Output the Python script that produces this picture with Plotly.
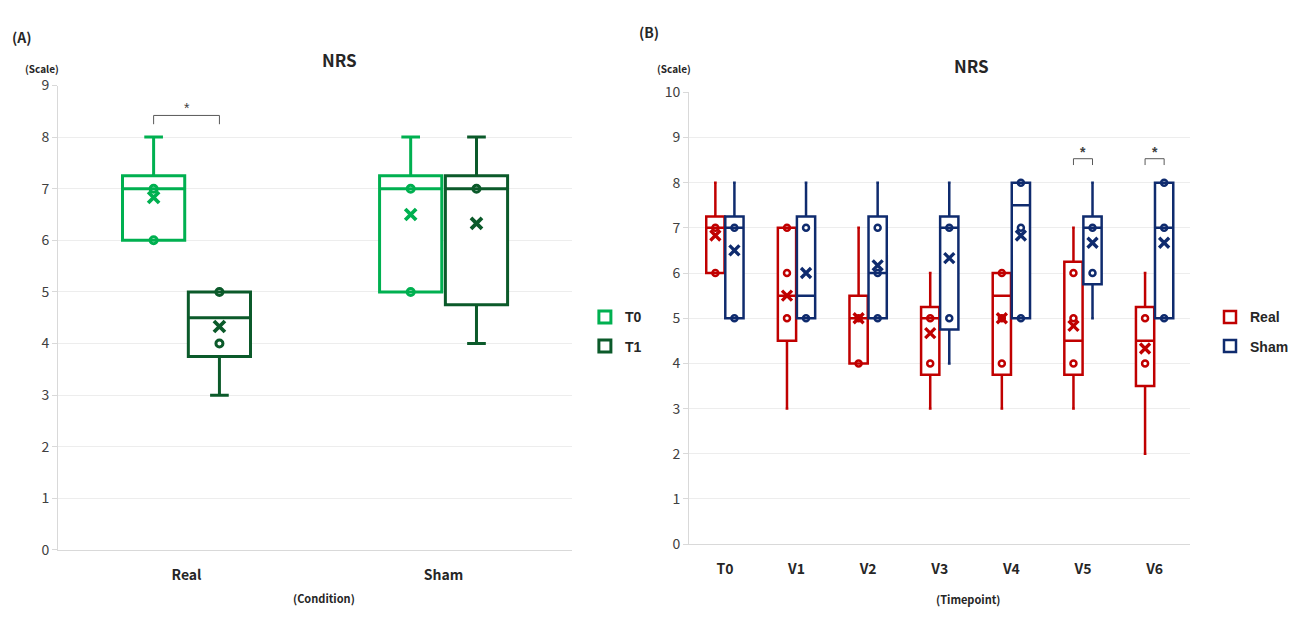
import plotly.graph_objects as go

# ---------------- Panel A: NRS by condition ----------------
conditions = ["Real", "Sham"]

t0_q1 = [6, 5]
t0_median = [7, 7]
t0_q3 = [7.25, 7.25]
t0_low = [6, 5]
t0_high = [8, 8]
t0_mean = [6.83, 6.5]
t0_points = [[7, 6], [7, 5]]

t1_q1 = [3.75, 4.75]
t1_median = [4.5, 7]
t1_q3 = [5, 7.25]
t1_low = [3, 4]
t1_high = [5, 8]
t1_mean = [4.33, 6.33]
t1_points = [[5, 4], [7]]

# ---------------- Panel B: NRS by timepoint ----------------
timepoints = ["T0", "V1", "V2", "V3", "V4", "V5", "V6"]

real_q1 = [6, 4.5, 4, 3.75, 3.75, 3.75, 3.5]
real_median = [7, 5.5, 5, 5, 5.5, 4.5, 4.5]
real_q3 = [7.25, 7, 5.5, 5.25, 6, 6.25, 5.25]
real_low = [6, 3, 4, 3, 3, 3, 2]
real_high = [8, 7, 7, 6, 6, 7, 6]
real_mean = [6.83, 5.5, 5.0, 4.67, 5.0, 4.83, 4.33]
real_points = [[7, 6], [7, 6, 5], [5, 4], [5, 4], [6, 5, 4], [6, 5, 4], [5, 4]]

sham_q1 = [5, 5, 5, 4.75, 5, 5.75, 5]
sham_median = [7, 5.5, 6, 7, 7.5, 7, 7]
sham_q3 = [7.25, 7.25, 7.25, 7.25, 8, 7.25, 8]
sham_low = [5, 5, 5, 4, 5, 5, 5]
sham_high = [8, 8, 8, 8, 8, 8, 8]
sham_mean = [6.5, 6.0, 6.17, 6.33, 6.83, 6.67, 6.67]
sham_points = [[7, 5], [7, 5], [7, 6, 5], [7, 5], [8, 7, 5], [7, 6], [8, 7, 5]]

# significance brackets: (category index, bracket height)
sig_a = [(0, 8.42)]
sig_b = [(5, 8.53), (6, 8.53)]

GREEN_T0 = "#00b050"
GREEN_T1 = "#0b5a2a"
RED = "#c00000"
NAVY = "#0f2b6e"
FONT = "Noto Sans CJK KR"

W, H = 1294, 618


def px(x):
    return x / W


def py(y):
    return 1 - y / H


fig = go.Figure()


def add_series(name, cats, offset, width, q1, med, q3, low, high, mean, pts,
               color, lw, ww, xa, ya, legend, msize, xsize):
    xs = [i + offset for i in range(len(cats))]
    fig.add_trace(go.Box(
        name=name, x=xs, q1=q1, median=med, q3=q3,
        lowerfence=low, upperfence=high, width=width,
        whiskerwidth=ww, boxpoints=False, fillcolor="white",
        line=dict(color=color, width=lw), xaxis=xa, yaxis=ya,
        legend=legend, legendgroup=name, showlegend=True,
        hoverinfo="skip",
    ))
    px_, py_ = [], []
    for x, group in zip(xs, pts):
        for v in group:
            px_.append(x)
            py_.append(v)
    fig.add_trace(go.Scatter(
        x=px_, y=py_, mode="markers", xaxis=xa, yaxis=ya,
        marker=dict(symbol="circle-open", size=msize, color=color,
                    line=dict(width=lw, color=color)),
        showlegend=False, hoverinfo="skip",
    ))
    fig.add_trace(go.Scatter(
        x=xs, y=mean, mode="markers", xaxis=xa, yaxis=ya,
        marker=dict(symbol="x-thin-open", size=xsize, color=color,
                    line=dict(width=lw + 0.8, color=color)),
        showlegend=False, hoverinfo="skip",
    ))


OFF_A, W_A = 0.128, 0.242
OFF_B, W_B = 0.133, 0.255

add_series("T0", conditions, -OFF_A, W_A, t0_q1, t0_median, t0_q3, t0_low,
           t0_high, t0_mean, t0_points, GREEN_T0, 3, 0.3, "x", "y",
           "legend", 7, 11)
add_series("T1", conditions, OFF_A, W_A, t1_q1, t1_median, t1_q3, t1_low,
           t1_high, t1_mean, t1_points, GREEN_T1, 3, 0.3, "x", "y",
           "legend", 7, 11)
add_series("Real", timepoints, -OFF_B, W_B, real_q1, real_median, real_q3,
           real_low, real_high, real_mean, real_points, RED, 2.5, 0.15,
           "x2", "y2", "legend2", 6, 10)
add_series("Sham", timepoints, OFF_B, W_B, sham_q1, sham_median, sham_q3,
           sham_low, sham_high, sham_mean, sham_points, NAVY, 2.5, 0.15,
           "x2", "y2", "legend2", 6, 10)

shapes = []
annotations = []


def bracket(xa, ya, idx, off, top, drop, star_bold, star_size):
    x0, x1 = idx - off, idx + off
    for (a, b, c, d) in [(x0, top - drop, x0, top), (x0, top, x1, top),
                         (x1, top, x1, top - drop)]:
        shapes.append(dict(type="line", xref=xa, yref=ya, x0=a, y0=b,
                           x1=c, y1=d, line=dict(color="#595959", width=1)))
    txt = "<b>*</b>" if star_bold else "*"
    annotations.append(dict(xref=xa, yref=ya, x=idx, y=top, text=txt,
                            showarrow=False, yanchor="bottom", yshift=-3,
                            font=dict(family="Liberation Sans", size=star_size,
                                      color="#404040")))


for idx, top in sig_a:
    bracket("x", "y", idx, OFF_A, top, 0.17, False, 14)
for idx, top in sig_b:
    bracket("x2", "y2", idx, OFF_B, top, 0.14, True, 14)

text_color = "#262626"


def label(x, y, text, size, bold=True, family=FONT, xanchor="center"):
    annotations.append(dict(xref="paper", yref="paper", x=px(x), y=py(y),
                            text=f"<b>{text}</b>" if bold else text,
                            showarrow=False, xanchor=xanchor, yanchor="middle",
                            font=dict(family=family, size=size,
                                      color=text_color)))


label(22, 27, "(A)", 14)
label(660, 22, "(B)", 14)
label(345, 50, "NRS", 17)
label(988, 56, "NRS", 17)
label(43, 59, "(Scale)", 10)
label(686, 59, "(Scale)", 10)
label(330, 607, "(Condition)", 11)
label(985, 608, "(Timepoint)", 11)

axis_common = dict(showgrid=False, zeroline=False, showline=True,
                   linecolor="#d9d9d9", linewidth=1, fixedrange=True,
                   ticks="", ticklabelstandoff=12,
                   tickfont=dict(family=FONT, size=14, color=text_color,
                                 weight="bold"))
yaxis_common = dict(showgrid=True, gridcolor="#ededed", gridwidth=1,
                    zeroline=False, showline=True, linecolor="#d9d9d9",
                    linewidth=1, ticks="outside", ticklen=5,
                    tickcolor="#d9d9d9", dtick=1,
                    tickfont=dict(family=FONT, size=14, color="#404040"))

legend_font = dict(family="Liberation Sans", size=14, color=text_color,
                   weight="bold")

fig.update_layout(
    width=W, height=H,
    margin=dict(l=0, r=0, t=0, b=0),
    paper_bgcolor="white", plot_bgcolor="white",
    boxmode="overlay",
    xaxis=dict(domain=[px(59), px(582)], range=[-0.5, 1.5], anchor="y",
               tickvals=list(range(len(conditions))), ticktext=conditions,
               **axis_common),
    yaxis=dict(domain=[py(557), py(77)], range=[0, 9], anchor="x",
               **yaxis_common),
    xaxis2=dict(domain=[px(701), px(1211)], range=[-0.5, 6.5], anchor="y2",
                tickvals=list(range(len(timepoints))), ticktext=timepoints,
                **axis_common),
    yaxis2=dict(domain=[py(551), py(84)], range=[0, 10], anchor="x2",
                **yaxis_common),
    legend=dict(x=px(595), y=py(300), xanchor="left", yanchor="top",
                tracegroupgap=8, itemwidth=30, font=legend_font,
                bgcolor="rgba(0,0,0,0)"),
    legend2=dict(x=px(1231), y=py(300), xanchor="left", yanchor="top",
                 tracegroupgap=8, itemwidth=30, font=legend_font,
                 bgcolor="rgba(0,0,0,0)"),
    shapes=shapes,
    annotations=annotations,
)

fig.write_html("out.html")
